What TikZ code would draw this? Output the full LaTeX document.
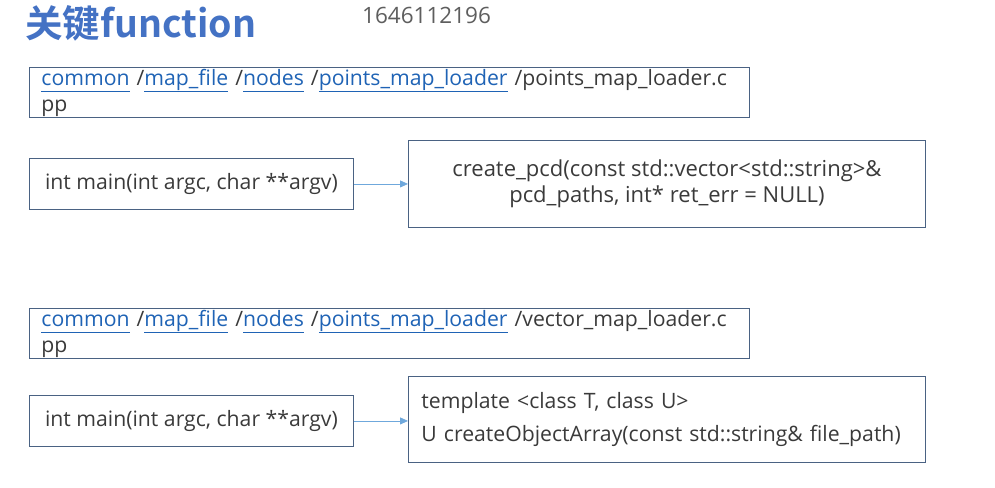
\documentclass[tikz,border=0pt]{standalone}
\usepackage{fontspec}
\setmainfont{Open Sans}
\newfontfamily\cjkfont{Noto Sans CJK SC}[BoldFont={Noto Sans CJK SC Bold}]
\usetikzlibrary{arrows.meta,positioning}
\definecolor{slBorder}{HTML}{4A6283}
\definecolor{slLink}{HTML}{1F63B5}
\definecolor{slTitle}{HTML}{4472C4}
\definecolor{slText}{HTML}{3A3A3A}
\definecolor{slArrow}{HTML}{6FA8DC}
\definecolor{slGrey}{HTML}{5E5E5E}
\newcommand{\lnk}[1]{\textcolor{slLink}{\underline{#1\vphantom{gp\_}}}}

\begin{document}
\begin{tikzpicture}[x=1pt,y=-1pt,
  box/.style={draw=slBorder,line width=0.9pt,text=slText,
    font=\fontsize{21.2}{26}\selectfont,inner ysep=0pt},
  pathbox/.style={box,anchor=north west,minimum width=720pt,minimum height=50pt,
    text width=696pt,inner xsep=12pt,align=left},
  mainbox/.style={box,anchor=north west,minimum width=324pt,minimum height=51pt},
  fnbox/.style={box,anchor=north west,minimum width=517pt,minimum height=87pt},
  arr/.style={-{Triangle[length=8pt,width=7pt]},line width=0.8pt,slArrow}]
\useasboundingbox (0,0) rectangle (995,487);
\node[anchor=west,inner sep=0pt,text=slTitle,font=\cjkfont\bfseries\fontsize{37.5}{40}\selectfont] (title) at (25,23) {关键function};
\node[anchor=west,inner sep=0pt,text=slGrey,font=\fontsize{22.5}{25}\selectfont] (stamp) at (362,15) {1646112196};
% points_map_loader
\node[pathbox] (path1) at (29,67) {\lnk{common} /\lnk{map\_file} /\lnk{nodes} /\lnk{points\_map\_loader} /points\_map\_loader.c\\pp};
\node[mainbox] (main1) at (29,158) {int main(int argc, char **argv)};
\node[fnbox,align=center,font=\fontsize{22}{26}\selectfont] (pcd) at (408,140) {create\_pcd(const std::vector<std::string>\&\\pcd\_paths, int* ret\_err = NULL)};
\draw[arr] (main1) -- (pcd);
% vector_map_loader
\node[pathbox] (path2) at (29,308) {\lnk{common} /\lnk{map\_file} /\lnk{nodes} /\lnk{points\_map\_loader} /vector\_map\_loader.c\\pp};
\node[mainbox] (main2) at (29,395) {int main(int argc, char **argv)};
\node[fnbox,minimum height=86pt,text width=491pt,inner xsep=13pt,align=left,
  font=\fontsize{21.2}{33}\selectfont] (tmpl) at (408,376) {template <class T, class U>\\U createObjectArray(const std::string\& file\_path)};
\draw[arr] (main2.east) -- (main2.east -| tmpl.west);
\end{tikzpicture}
\end{document}
